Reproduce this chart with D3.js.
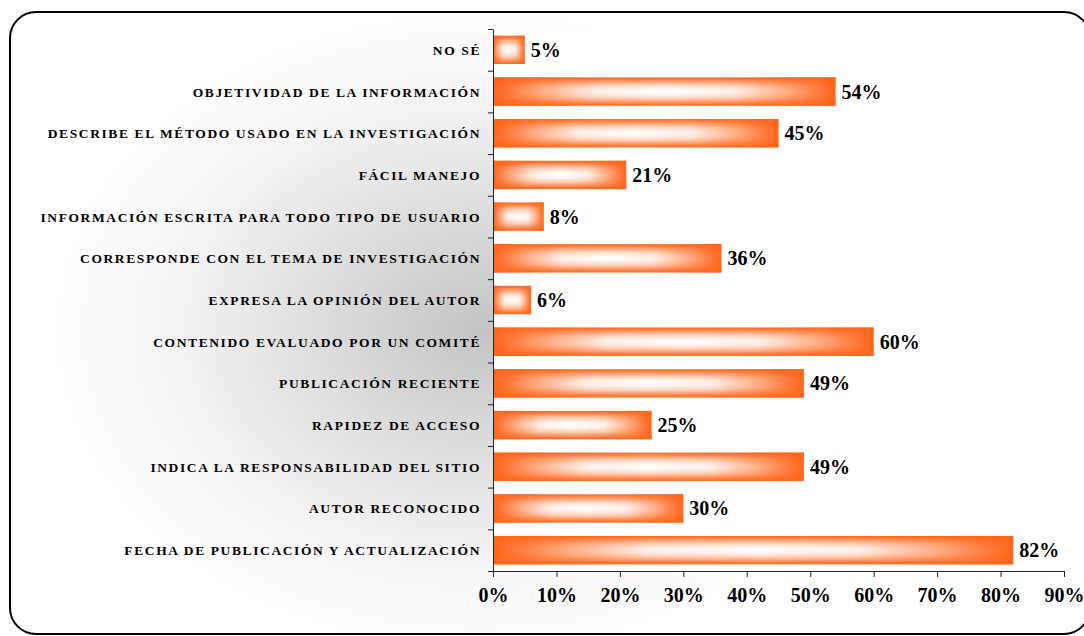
<!DOCTYPE html>
<html lang="es">
<head>
<meta charset="UTF-8">
<script src="https://d3js.org/d3.v7.min.js"></script>
<title>Criterios de evaluación</title>
<style>
  body { margin: 0; background: #fff; }
  svg text { font-family: "Liberation Serif", "Times New Roman", serif; font-weight: bold; }
</style>
</head>
<body>
<script>
    // data, top to bottom as drawn
    const categories = [
        "NO SÉ",
        "OBJETIVIDAD DE LA INFORMACIÓN",
        "DESCRIBE EL MÉTODO USADO EN LA INVESTIGACIÓN",
        "FÁCIL MANEJO",
        "INFORMACIÓN ESCRITA PARA TODO TIPO DE USUARIO",
        "CORRESPONDE CON EL TEMA DE INVESTIGACIÓN",
        "EXPRESA LA OPINIÓN DEL AUTOR",
        "CONTENIDO EVALUADO POR UN COMITÉ",
        "PUBLICACIÓN RECIENTE",
        "RAPIDEZ DE ACCESO",
        "INDICA LA RESPONSABILIDAD DEL SITIO",
        "AUTOR RECONOCIDO",
        "FECHA DE PUBLICACIÓN Y ACTUALIZACIÓN"
    ];
    const values = [5, 54, 45, 21, 8, 36, 6, 60, 49, 25, 49, 30, 82];
    const xTicks = [0, 10, 20, 30, 40, 50, 60, 70, 80, 90];

    const W = 1084, H = 636;
    const plot = { left: 493, right: 1064, top: 29, bottom: 571 };
    const orange = "#ff661a";

    const svg = d3.select("body").append("svg")
        .attr("width", W)
        .attr("height", H);

    const defs = svg.append("defs");

    // grey shading behind the labels
    const bg = defs.append("radialGradient")
        .attr("id", "bg")
        .attr("gradientUnits", "userSpaceOnUse")
        .attr("cx", 480).attr("cy", 330).attr("r", 430)
        .attr("gradientTransform", "translate(480,330) scale(1,0.75) translate(-480,-330)");
    bg.append("stop").attr("offset", 0).attr("stop-color", "#c4c4c4");
    bg.append("stop").attr("offset", 0.4).attr("stop-color", "#dfdfdf");
    bg.append("stop").attr("offset", 0.75).attr("stop-color", "#f6f6f6");
    bg.append("stop").attr("offset", 1).attr("stop-color", "#ffffff");

    // bar fill: horizontal part
    const gh = defs.append("linearGradient").attr("id", "barH")
        .attr("x1", 0).attr("x2", 1).attr("y1", 0).attr("y2", 0);
    [[0, orange], [0.05, "#ff7b3e"], [0.15, "#ffb089"], [0.3, "#fff0ea"], [0.5, "#ffffff"],
     [0.7, "#fff0ea"], [0.85, "#ffb089"], [0.95, "#ff7b3e"], [1, orange]].forEach(s =>
        gh.append("stop").attr("offset", s[0]).attr("stop-color", s[1]));

    // bar fill: top/bottom edges overlay
    const gv = defs.append("linearGradient").attr("id", "barV")
        .attr("x1", 0).attr("x2", 0).attr("y1", 0).attr("y2", 1);
    [[0, 1], [0.1, 0.75], [0.25, 0.3], [0.4, 0.05], [0.5, 0], [0.6, 0.05], [0.75, 0.3], [0.9, 0.75], [1, 1]].forEach(s =>
        gv.append("stop").attr("offset", s[0]).attr("stop-color", orange).attr("stop-opacity", s[1]));

    // outer frame
    svg.append("rect")
        .attr("x", 10).attr("y", 12)
        .attr("width", 1080).attr("height", 622)
        .attr("rx", 26).attr("ry", 26)
        .attr("fill", "url(#bg)")
        .attr("stroke", "#000")
        .attr("stroke-width", 2);

    // plot area
    svg.append("rect")
        .attr("x", plot.left).attr("y", plot.top)
        .attr("width", plot.right - plot.left)
        .attr("height", plot.bottom - plot.top)
        .attr("fill", "#fff");

    const x = d3.scaleLinear().domain([0, 90]).range([plot.left, plot.right]);
    const y = d3.scaleBand().domain(categories)
        .range([plot.top, plot.bottom])
        .paddingInner(0.32).paddingOuter(0.16);
    const yEdge = d3.scaleLinear().domain([0, categories.length]).range([plot.top, plot.bottom]);

    // bars
    const bars = svg.append("g").selectAll("g")
        .data(categories)
        .enter().append("g");

    bars.append("rect")
        .attr("x", x(0))
        .attr("y", d => y(d))
        .attr("width", (d, i) => x(values[i]) - x(0))
        .attr("height", y.bandwidth())
        .attr("fill", "url(#barH)");

    bars.append("rect")
        .attr("x", x(0))
        .attr("y", d => y(d))
        .attr("width", (d, i) => x(values[i]) - x(0))
        .attr("height", y.bandwidth())
        .attr("fill", "url(#barV)");

    // value labels
    bars.append("text")
        .attr("x", (d, i) => x(values[i]) + 6)
        .attr("y", d => y(d) + y.bandwidth() / 2 + 7)
        .style("font-size", "20px")
        .text((d, i) => values[i] + "%");

    // category labels
    svg.append("g").selectAll("text")
        .data(categories)
        .enter().append("text")
        .attr("x", 481)
        .attr("y", d => y(d) + y.bandwidth() / 2 + 5)
        .attr("text-anchor", "end")
        .style("font-size", "13.5px")
        .style("letter-spacing", "1.6px")
        .text(d => d);

    // y axis: line with ticks between categories
    const yAxis = svg.append("g")
        .attr("transform", "translate(" + plot.left + ",0)")
        .call(d3.axisLeft(yEdge).tickValues(d3.range(categories.length + 1))
            .tickSize(5).tickSizeOuter(0).tickFormat(""));
    yAxis.selectAll("path, line").attr("stroke", "#222");

    // x axis
    const xAxis = svg.append("g")
        .attr("transform", "translate(0," + plot.bottom + ")")
        .call(d3.axisBottom(x).tickValues(xTicks).tickSize(6).tickSizeOuter(6)
            .tickFormat(d => d + "%"));
    xAxis.selectAll("path, line").attr("stroke", "#222");
    xAxis.selectAll("text")
        .attr("y", 24)
        .attr("dy", "0.35em")
        .attr("fill", "#000")
        .style("font-size", "20px")
        .style("font-family", "'Liberation Serif', serif")
        .style("font-weight", "bold");
</script>
</body>
</html>
